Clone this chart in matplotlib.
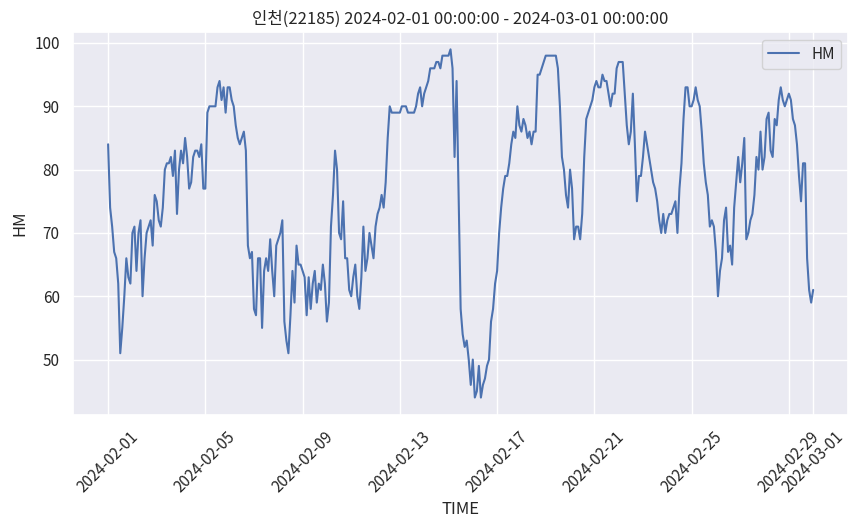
import numpy as np
import pandas as pd
import seaborn as sns
import matplotlib.pyplot as plt


START = "2024-02-01 00:00:00"
END = "2024-03-01 00:00:00"
STATION = "인천(22185)"

# humidity, every 2 hours, one row per day
hm_day = [
    [84, 74, 71, 67, 66, 62, 51, 55, 60, 66, 63, 62],   # 02-01
    [70, 71, 64, 70, 72, 60, 66, 70, 71, 72, 68, 76],
    [75, 72, 71, 74, 80, 81, 81, 82, 79, 83, 73, 80],
    [83, 81, 85, 82, 77, 78, 82, 83, 83, 82, 84, 77],
    [77, 89, 90, 90, 90, 90, 93, 94, 91, 93, 89, 93],   # 02-05
    [93, 91, 90, 87, 85, 84, 85, 86, 83, 68, 66, 67],
    [58, 57, 66, 66, 55, 64, 66, 64, 69, 64, 60, 68],
    [69, 70, 72, 56, 53, 51, 57, 64, 59, 68, 65, 65],
    [64, 63, 57, 63, 58, 62, 64, 59, 62, 61, 65, 62],   # 02-09
    [56, 59, 71, 76, 83, 80, 70, 69, 75, 66, 66, 61],
    [60, 63, 65, 60, 58, 63, 71, 64, 66, 70, 68, 66],
    [71, 73, 74, 76, 74, 78, 85, 90, 89, 89, 89, 89],
    [89, 90, 90, 90, 89, 89, 89, 89, 90, 92, 93, 90],   # 02-13
    [92, 93, 94, 96, 96, 96, 97, 97, 96, 98, 98, 98],
    [98, 99, 96, 82, 94, 76, 58, 54, 52, 53, 50, 46],
    [50, 44, 45, 49, 44, 46, 47, 49, 50, 56, 58, 62],
    [64, 70, 74, 77, 79, 79, 81, 84, 86, 85, 90, 87],   # 02-17
    [86, 88, 87, 85, 86, 84, 86, 86, 95, 95, 96, 97],
    [98, 98, 98, 98, 98, 98, 96, 90, 82, 80, 76, 74],
    [80, 77, 69, 71, 71, 69, 73, 82, 88, 89, 90, 91],
    [93, 94, 93, 93, 95, 94, 94, 92, 90, 92, 92, 96],   # 02-21
    [97, 97, 97, 92, 87, 84, 86, 92, 84, 75, 79, 79],
    [82, 86, 84, 82, 80, 78, 77, 75, 72, 70, 73, 70],
    [72, 73, 73, 74, 75, 70, 77, 81, 88, 93, 93, 90],
    [90, 91, 93, 91, 90, 86, 81, 78, 76, 71, 72, 71],   # 02-25
    [67, 60, 64, 66, 72, 74, 67, 68, 65, 74, 78, 82],
    [78, 81, 85, 69, 70, 72, 73, 76, 82, 80, 86, 80],
    [82, 88, 89, 83, 82, 88, 87, 91, 93, 91, 90, 91],
    [92, 91, 88, 87, 84, 79, 75, 81, 81, 66, 61, 59],   # 02-29
]
hm_last = [61]  # 03-01 00:00

hm = [v for day in hm_day for v in day] + hm_last
time = pd.date_range(START, END, freq="2h")
df = pd.DataFrame({"TIME": time, "HM": hm}).set_index("TIME")

sns.set_theme()
plt.rcParams["font.family"] = ["Noto Sans CJK KR", "DejaVu Sans"]
plt.rcParams["axes.unicode_minus"] = False

fig, ax = plt.subplots(figsize=(8.57, 5.32), dpi=100)
fig.subplots_adjust(left=0.085, right=0.99, top=0.94, bottom=0.22)

ax.plot(df.index, df["HM"], label="HM", color="#4c72b0", linewidth=1.5)
ax.set_title(f"{STATION} {START} - {END}", fontsize=12)
ax.set_xlabel("TIME", fontsize=12)
ax.set_ylabel("HM", fontsize=12)
plt.setp(ax.get_xticklabels(), rotation=45)
ax.tick_params(labelsize=11)
ax.legend(loc="upper right", fontsize=11)

fig.savefig("out.png", dpi=100)
